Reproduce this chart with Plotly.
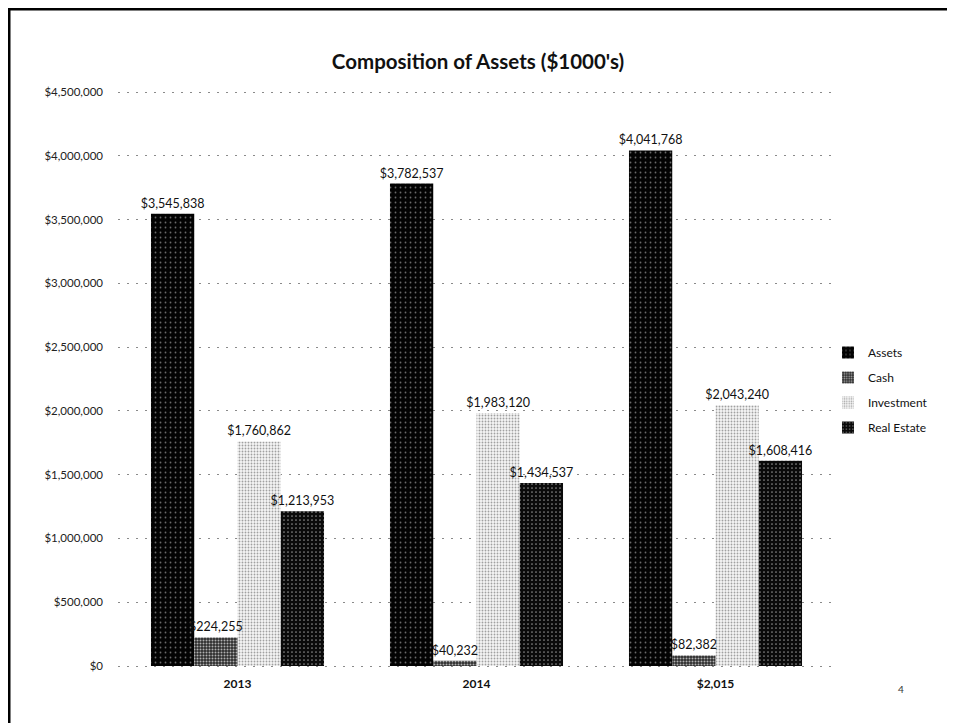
import plotly.graph_objects as go

categories = ["2013", "2014", "$2,015"]
assets = [3545838, 3782537, 4041768]
cash = [224255, 40232, 82382]
investment = [1760862, 1983120, 2043240]
real_estate = [1213953, 1434537, 1608416]
y_ticks = [0, 500000, 1000000, 1500000, 2000000, 2500000, 3000000, 3500000, 4000000, 4500000]

OFF = 8  # page body margin
PAD = 2  # extra pixels above/below so edge gridlines are drawn
W, H = 955 - OFF, 723 - OFF
L, R, T, B = 118 - OFF, 955 - 835, 92 - OFF - PAD, 723 - 666 - PAD
pw, ph = W - L - R, H - T - B
unit_per_px = 4500000 / (ph - 2 * PAD)
y_lo, y_hi = -PAD * unit_per_px, 4500000 + PAD * unit_per_px

def px_x(x):  # image pixel -> paper coord
    return (x - OFF - L) / pw

def px_y(y):
    return (H - B - (y - OFF)) / ph

series = [
    ("Assets", assets, dict(shape=".", fgcolor="#6a6a6a", bgcolor="#030303", size=5, solidity=0.1, fillmode="replace"), 0),
    ("Cash", cash, dict(shape=".", fgcolor="#b0b0b0", bgcolor="#2e2e2e", size=3, solidity=0.35, fillmode="replace"), 1),
    ("Investment", investment, dict(shape=".", fgcolor="#a0a0a0", bgcolor="#f6f6f6", size=3, solidity=0.3, fillmode="replace"), 0),
    ("Real Estate", real_estate, dict(shape=".", fgcolor="#8a8a8a", bgcolor="#0a0a0a", size=4, solidity=0.15, fillmode="replace"), 0),
]

fig = go.Figure()
for name, vals, pat, z in series:
    fig.add_trace(go.Bar(
        name=name,
        x=categories,
        y=vals,
        legendgroup=name,
        zorder=z,
        marker=dict(color=pat["bgcolor"], pattern=pat, line=dict(width=0)),
        texttemplate="$%{y:,}",
        textposition="outside",
        constraintext="none",
        textfont=dict(family="Lato", size=12.5, color="#111111"),
        cliponaxis=False,
        hoverinfo="skip",
    ))

fig.update_layout(
    width=W, height=H,
    margin=dict(l=L, r=R, t=T, b=B, autoexpand=False),
    paper_bgcolor="white",
    plot_bgcolor="white",
    barmode="group",
    bargap=0.276,
    bargroupgap=0,
    title=dict(
        text="<b>Composition of Assets ($1000's)</b>",
        x=(478 - OFF) / W, xanchor="center", xref="container",
        y=(H - (62 - OFF)) / H, yanchor="middle",
        font=dict(family="Lato", size=20.5, color="#111111"),
    ),
    font=dict(family="Lato", color="#111111"),
    legend=dict(
        x=px_x(828), xanchor="left",
        y=px_y(390), yanchor="middle",
        font=dict(family="Lato", size=12, color="#111111"),
        tracegroupgap=6,
        bgcolor="rgba(0,0,0,0)",
        itemclick=False,
    ),
    showlegend=True,
)

fig.update_xaxes(
    showgrid=False, showline=False, zeroline=False, ticks="",
    tickfont=dict(family="Lato", size=12, color="#111111"),
    tickprefix="<b>", ticksuffix="</b>",
    ticklabelstandoff=7,
)
fig.update_yaxes(
    range=[y_lo, y_hi],
    tickvals=y_ticks,
    tickformat="$,",
    showgrid=True, gridcolor="#8a8a8a", gridwidth=1, griddash="2px,7px",
    zeroline=False,
    showline=False, ticks="",
    tickfont=dict(family="Lato", size=11.5, color="#222222"),
    ticklabelstandoff=14,
)

# slide frame
fig.add_shape(type="line", xref="paper", yref="paper",
              x0=px_x(9), x1=px_x(9), y0=px_y(730), y1=px_y(8),
              line=dict(color="#000000", width=3))
fig.add_shape(type="line", xref="paper", yref="paper",
              x0=px_x(8), x1=px_x(960), y0=px_y(9), y1=px_y(9),
              line=dict(color="#000000", width=3))

fig.add_annotation(text="4", xref="paper", yref="paper",
                   x=px_x(906), y=px_y(697), showarrow=False,
                   font=dict(family="Lato", size=10, color="#333333"))

fig.write_html("out.html")
